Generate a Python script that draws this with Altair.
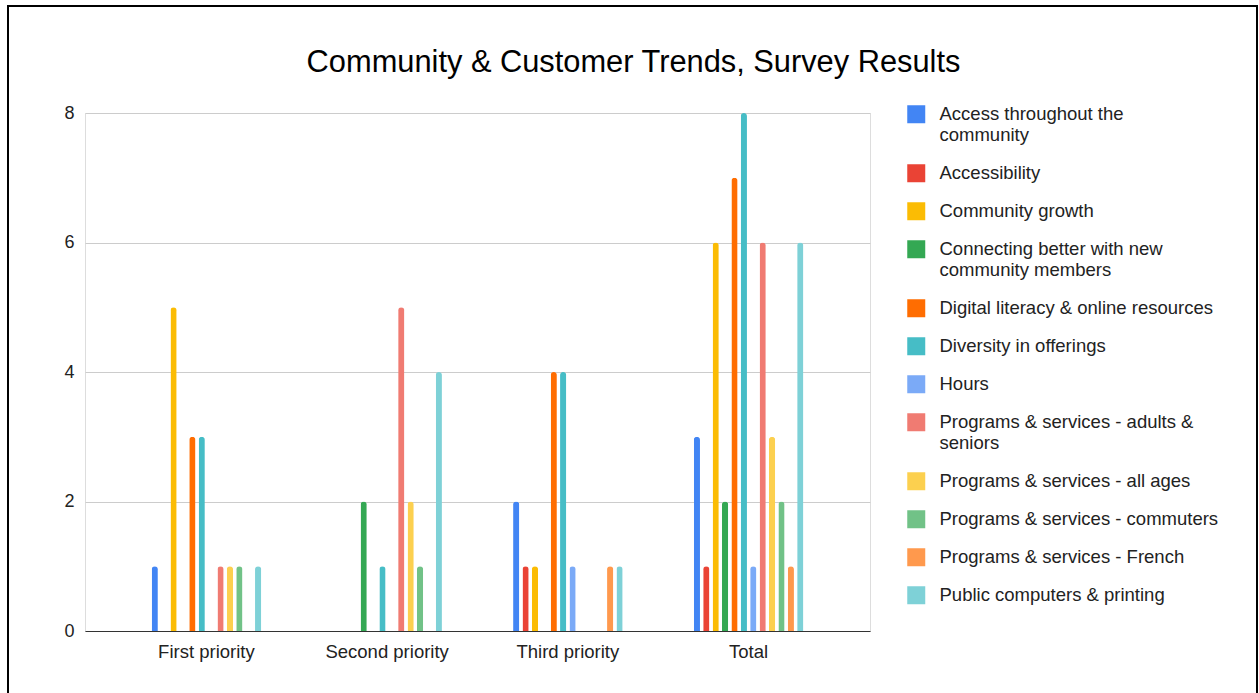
import json
import altair as alt
import pandas as pd

categories = ["First priority", "Second priority", "Third priority", "Total"]
series = [
    "Access throughout the community",
    "Accessibility",
    "Community growth",
    "Connecting better with new community members",
    "Digital literacy & online resources",
    "Diversity in offerings",
    "Hours",
    "Programs & services - adults & seniors",
    "Programs & services - all ages",
    "Programs & services - commuters",
    "Programs & services - French",
    "Public computers & printing",
]
colors = ["#4285F4", "#EA4335", "#FBBC04", "#34A853", "#FF6D01", "#46BDC6",
          "#7BAAF7", "#F07B72", "#FCD04F", "#71C287", "#FF994D", "#7ED1D7"]

first_priority = [1, 0, 5, 0, 3, 3, 0, 1, 1, 1, 0, 1]
second_priority = [0, 0, 0, 2, 0, 1, 0, 5, 2, 1, 0, 4]
third_priority = [2, 1, 1, 0, 4, 4, 1, 0, 0, 0, 1, 1]
total = [3, 1, 6, 2, 7, 8, 1, 6, 3, 2, 1, 6]

wrapped = {
    "Access throughout the community": ["Access throughout the", "community"],
    "Connecting better with new community members": ["Connecting better with new", "community members"],
    "Programs & services - adults & seniors": ["Programs & services - adults &", "seniors"],
}

rows = []
for cat, vals in zip(categories, [first_priority, second_priority, third_priority, total]):
    for s, v in zip(series, vals):
        rows.append({"category": cat, "series": s, "value": v})
df = pd.DataFrame(rows)

label_expr = "datum.label"
for k, v in wrapped.items():
    label_expr = f"datum.label === {json.dumps(k)} ? {json.dumps(v)} : ({label_expr})"

FONT = "Arial"

bars = alt.Chart(df).mark_bar(cornerRadiusTopLeft=3, cornerRadiusTopRight=3).encode(
    x=alt.X("category:N", sort=categories,
            scale=alt.Scale(paddingInner=0.376, paddingOuter=0.36),
            axis=alt.Axis(title=None, labelAngle=0, domainColor="#333333", domainWidth=1,
                          ticks=False, labelFontSize=18.5, labelFont=FONT, labelColor="#222222",
                          labelPadding=11, grid=False)),
    xOffset=alt.XOffset("series:N", sort=series,
                        scale=alt.Scale(paddingInner=0.34, paddingOuter=0.17)),
    y=alt.Y("value:Q", scale=alt.Scale(domain=[0, 8]),
            axis=alt.Axis(title=None, values=[0, 2, 4, 6, 8], domain=False, ticks=False,
                          gridColor="#cccccc", labelFontSize=18, labelFont=FONT,
                          labelColor="#222222", labelPadding=11)),
    color=alt.Color("series:N", sort=series,
                    scale=alt.Scale(domain=series, range=colors),
                    legend=alt.Legend(title=None, orient="none", legendX=822, legendY=-8,
                                      symbolType="square", symbolSize=324, symbolStrokeWidth=0,
                                      symbolOpacity=1, labelFontSize=18.5, labelFont=FONT,
                                      labelColor="#222222", labelOffset=14, rowPadding=19,
                                      padding=0, labelLimit=500, labelExpr=label_expr,
                                      labelBaseline="middle")),
)

border = alt.Chart(pd.DataFrame({"a": [0]})).mark_rect(
    filled=False, stroke="#000000", strokeWidth=2
).encode(
    x=alt.value(-77), x2=alt.value(1172), y=alt.value(-107), y2=alt.value(600)
)

chart = alt.layer(bars, border).properties(
    width=785,
    height=518,
    padding={"left": 85, "top": 113, "right": 389, "bottom": 62},
    autosize=alt.AutoSizeParams(type="none"),
    title=alt.TitleParams("Community & Customer Trends, Survey Results", fontSize=30.8,
                          font=FONT, fontWeight="normal", color="#000000",
                          anchor="middle", frame="group", dx=156, offset=-74),
).configure_view(stroke=None).configure(background="white")

chart.save("out.html", embed_options={"renderer": "svg", "actions": False})
